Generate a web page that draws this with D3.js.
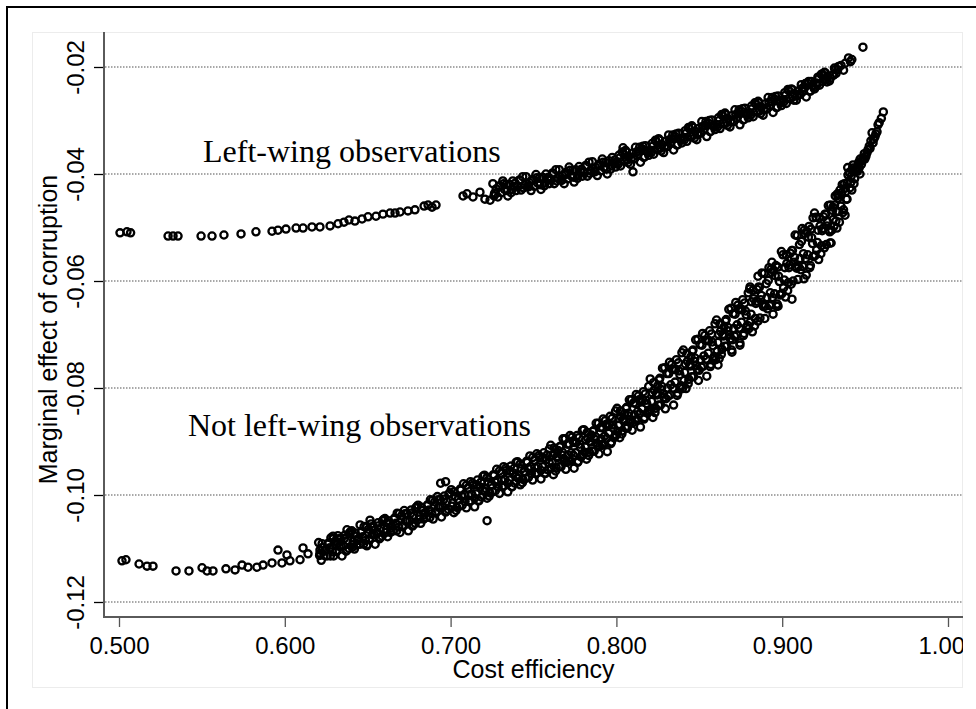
<!DOCTYPE html>
<html><head><meta charset="utf-8">
<script src="https://cdn.jsdelivr.net/npm/d3@7"></script>
<style>html,body{margin:0;padding:0;background:#fff}</style>
</head><body>
<svg id="c" width="976" height="709"></svg>
<script>
const xTicks = [0.5, 0.6, 0.7, 0.8, 0.9, 1.0];
const yTicks = [-0.12, -0.10, -0.08, -0.06, -0.04, -0.02];
const xTitle = "Cost efficiency";
const yTitle = "Marginal effect of corruption";
const labels = ["Left-wing observations", "Not left-wing observations"];
const labelX = [0.5507, 0.5416];
const labelY = [-0.0378, -0.0890];

const leftWing = [
[0.5006,-0.0510],[0.5048,-0.0508],[0.507,-0.0510],[0.5296,-0.0516],[0.5326,-0.0516],[0.5356,-0.0516],
[0.5495,-0.0516],[0.5561,-0.0516],[0.5633,-0.0514],[0.5736,-0.0512],[0.5826,-0.0508],[0.5923,-0.0507],
[0.5959,-0.0505],[0.6007,-0.0503],[0.6068,-0.0501],[0.611,-0.0501],[0.6164,-0.0499],[0.6212,-0.0499],
[0.6273,-0.0497],[0.6321,-0.0493],[0.6357,-0.0490],[0.6387,-0.0486],[0.6423,-0.0488],[0.6466,-0.0484],
[0.6502,-0.0480],[0.655,-0.0479],[0.6592,-0.0475],[0.6635,-0.0473],[0.6665,-0.0473],[0.6695,-0.0471],
[0.6743,-0.0469],[0.6785,-0.0467],[0.684,-0.0460],[0.6864,-0.0458],[0.6888,-0.0462],[0.6912,-0.0458],
[0.7075,-0.0441],[0.7099,-0.0437],[0.7135,-0.0443],[0.7177,-0.0434],[0.7207,-0.0447],[0.7238,-0.0449],[0.7262,-0.0441],
[0.7255,-0.0418],[0.7265,-0.0436],[0.7275,-0.0428],[0.7285,-0.0443],[0.7295,-0.0422],
[0.7305,-0.0435],[0.7315,-0.0413],[0.7325,-0.0429],[0.7335,-0.0420],[0.7345,-0.0441],
[0.7355,-0.0419],[0.7365,-0.0435],[0.7375,-0.0413],[0.7385,-0.0423],[0.7395,-0.0431],
[0.7405,-0.0424],[0.7415,-0.0411],[0.7425,-0.0430],[0.7435,-0.0405],[0.7445,-0.0421],
[0.7455,-0.0405],[0.7465,-0.0423],[0.7475,-0.0416],[0.7485,-0.0431],[0.7495,-0.0410],
[0.7505,-0.0423],[0.7515,-0.0401],[0.7525,-0.0417],[0.7535,-0.0408],[0.7545,-0.0429],
[0.7555,-0.0406],[0.7565,-0.0422],[0.7575,-0.0400],[0.7585,-0.0410],[0.7595,-0.0418],
[0.7605,-0.0411],[0.7615,-0.0398],[0.7625,-0.0418],[0.7635,-0.0392],[0.7645,-0.0408],
[0.7655,-0.0392],[0.7665,-0.0410],[0.7675,-0.0403],[0.7685,-0.0418],[0.7695,-0.0397],
[0.7705,-0.0409],[0.7715,-0.0387],[0.7725,-0.0403],[0.7735,-0.0394],[0.7745,-0.0415],
[0.7755,-0.0392],[0.7765,-0.0408],[0.7775,-0.0386],[0.7785,-0.0396],[0.7795,-0.0404],
[0.7805,-0.0397],[0.7815,-0.0384],[0.7825,-0.0404],[0.7835,-0.0378],[0.7845,-0.0394],
[0.7855,-0.0377],[0.7865,-0.0395],[0.7875,-0.0388],[0.7885,-0.0403],[0.7895,-0.0382],
[0.7905,-0.0394],[0.7915,-0.0372],[0.7925,-0.0388],[0.7935,-0.0379],[0.7945,-0.0400],
[0.7955,-0.0375],[0.7965,-0.0391],[0.7975,-0.0369],[0.7985,-0.0379],[0.7995,-0.0387],
[0.8005,-0.0378],[0.8015,-0.0365],[0.8025,-0.0385],[0.8035,-0.0359],[0.8045,-0.0376],
[0.8055,-0.0356],[0.8065,-0.0374],[0.8075,-0.0367],[0.8085,-0.0382],[0.8095,-0.0361],
[0.8105,-0.0372],[0.8115,-0.0350],[0.8125,-0.0366],[0.8135,-0.0357],[0.8145,-0.0378],
[0.8155,-0.0353],[0.8165,-0.0369],[0.8175,-0.0347],[0.8185,-0.0357],[0.8195,-0.0365],
[0.8205,-0.0356],[0.8215,-0.0343],[0.8225,-0.0363],[0.8235,-0.0337],[0.8245,-0.0354],
[0.8255,-0.0334],[0.8265,-0.0352],[0.8275,-0.0345],[0.8285,-0.0360],[0.8295,-0.0339],
[0.8305,-0.0349],[0.8315,-0.0327],[0.8325,-0.0343],[0.8335,-0.0334],[0.8345,-0.0355],
[0.8355,-0.0330],[0.8365,-0.0346],[0.8375,-0.0324],[0.8385,-0.0334],[0.8395,-0.0342],
[0.8405,-0.0332],[0.8415,-0.0319],[0.8425,-0.0339],[0.8435,-0.0313],[0.8445,-0.0330],
[0.8455,-0.0310],[0.8465,-0.0328],[0.8475,-0.0320],[0.8485,-0.0336],[0.8495,-0.0315],
[0.8505,-0.0324],[0.8515,-0.0302],[0.8525,-0.0318],[0.8535,-0.0309],[0.8545,-0.0330],
[0.8555,-0.0305],[0.8565,-0.0321],[0.8575,-0.0299],[0.8585,-0.0309],[0.8595,-0.0317],
[0.8605,-0.0308],[0.8615,-0.0295],[0.8625,-0.0315],[0.8635,-0.0289],[0.8645,-0.0306],
[0.8655,-0.0286],[0.8665,-0.0304],[0.8675,-0.0297],[0.8685,-0.0312],[0.8695,-0.0291],
[0.8705,-0.0302],[0.8715,-0.0280],[0.8725,-0.0296],[0.8735,-0.0287],[0.8745,-0.0308],
[0.8755,-0.0283],[0.8765,-0.0299],[0.8775,-0.0277],[0.8785,-0.0287],[0.8795,-0.0295],
[0.8805,-0.0286],[0.8815,-0.0273],[0.8825,-0.0293],[0.8835,-0.0267],[0.8845,-0.0284],
[0.8855,-0.0264],[0.8865,-0.0282],[0.8875,-0.0275],[0.8885,-0.0290],[0.8895,-0.0269],
[0.8905,-0.0279],[0.8915,-0.0257],[0.8925,-0.0273],[0.8935,-0.0264],[0.8945,-0.0285],
[0.8955,-0.0260],[0.8965,-0.0276],[0.8975,-0.0254],[0.8985,-0.0264],[0.8995,-0.0272],
[0.9005,-0.0261],[0.9015,-0.0248],[0.9025,-0.0268],[0.9035,-0.0242],[0.9045,-0.0259],
[0.9055,-0.0241],[0.9065,-0.0256],[0.9075,-0.0250],[0.9085,-0.0262],[0.9095,-0.0245],
[0.9105,-0.0251],[0.9115,-0.0233],[0.9125,-0.0246],[0.9135,-0.0239],[0.9145,-0.0256],
[0.9155,-0.0231],[0.9165,-0.0245],[0.9175,-0.0227],[0.9185,-0.0235],[0.9195,-0.0241],
[0.9205,-0.0230],[0.9215,-0.0219],[0.9225,-0.0234],[0.9235,-0.0214],[0.9245,-0.0227],
[0.9255,-0.0210],[0.9265,-0.0223],[0.9275,-0.0217],[0.9285,-0.0226],
[0.9305,-0.0215],[0.9315,-0.0202],[0.9325,-0.0212],[0.9335,-0.0205],
[0.9355,-0.0197],[0.9370,-0.0206],[0.9380,-0.0193],[0.9400,-0.0183],[0.9412,-0.0190],[0.9420,-0.0186],
[0.9487,-0.0163],[0.804,-0.0351],[0.810,-0.0396],
[0.7270,-0.0437],[0.7290,-0.0424],[0.7320,-0.0418],[0.7340,-0.0431],[0.7370,-0.0429],[0.7390,-0.0417],
[0.7420,-0.0412],[0.7440,-0.0426],[0.7470,-0.0424],[0.7490,-0.0413],[0.7520,-0.0407],[0.7540,-0.0420],
[0.7570,-0.0417],[0.7590,-0.0406],[0.7620,-0.0400],[0.7640,-0.0413],[0.7670,-0.0412],[0.7690,-0.0401],
[0.7720,-0.0393],[0.7740,-0.0406],[0.7770,-0.0403],[0.7790,-0.0391],[0.7820,-0.0386],[0.7840,-0.0399],
[0.7870,-0.0396],[0.7890,-0.0385],[0.7920,-0.0378],[0.7940,-0.0391],[0.7970,-0.0385],[0.7990,-0.0374],
[0.8010,-0.0382],[0.8020,-0.0370],[0.8040,-0.0361],[0.8060,-0.0359],[0.8070,-0.0379],[0.8090,-0.0371],
[0.8110,-0.0371],[0.8120,-0.0359],[0.8140,-0.0350],[0.8160,-0.0348],[0.8170,-0.0368],[0.8190,-0.0360],
[0.8210,-0.0360],[0.8220,-0.0348],[0.8240,-0.0339],[0.8260,-0.0337],[0.8270,-0.0357],[0.8290,-0.0349],
[0.8310,-0.0348],[0.8320,-0.0336],[0.8340,-0.0327],[0.8360,-0.0325],[0.8370,-0.0345],[0.8390,-0.0337],
[0.8410,-0.0336],[0.8420,-0.0324],[0.8440,-0.0315],[0.8460,-0.0313],[0.8470,-0.0333],[0.8490,-0.0325],
[0.8510,-0.0323],[0.8520,-0.0311],[0.8540,-0.0302],[0.8560,-0.0300],[0.8570,-0.0320],[0.8590,-0.0312],
[0.8610,-0.0312],[0.8620,-0.0300],[0.8640,-0.0291],[0.8660,-0.0289],[0.8670,-0.0309],[0.8690,-0.0301],
[0.8710,-0.0301],[0.8720,-0.0289],[0.8740,-0.0280],[0.8760,-0.0278],[0.8770,-0.0298],[0.8790,-0.0290],
[0.8810,-0.0290],[0.8820,-0.0278],[0.8840,-0.0269],[0.8860,-0.0267],[0.8870,-0.0287],[0.8890,-0.0279],
[0.8910,-0.0278],[0.8920,-0.0266],[0.8940,-0.0257],[0.8960,-0.0255],[0.8970,-0.0275],[0.8990,-0.0267],
[0.9010,-0.0265],[0.9020,-0.0253],[0.9040,-0.0244],[0.9060,-0.0242],[0.9070,-0.0262],[0.9090,-0.0254],
[0.9110,-0.0251],[0.9120,-0.0240],[0.9140,-0.0231],[0.9160,-0.0227],[0.9170,-0.0245],[0.9190,-0.0238],
[0.9210,-0.0233],[0.9220,-0.0222],[0.9240,-0.0213],[0.9260,-0.0211],[0.9270,-0.0228],[0.9290,-0.0221],
[0.9310,-0.0215],[0.9320,-0.0205],[0.9340,-0.0199]
];

const notLeftWing = [
[0.5018,-0.1123],[0.5042,-0.1121],[0.5121,-0.1129],[0.5169,-0.1133],[0.5205,-0.1133],[0.5344,-0.1142],
[0.5422,-0.1142],[0.5501,-0.1136],[0.5531,-0.1142],[0.5567,-0.1142],[0.5645,-0.1138],[0.570,-0.1140],
[0.5742,-0.1131],[0.5778,-0.1135],[0.5832,-0.1135],[0.5869,-0.1131],[0.5923,-0.1127],[0.5959,-0.1103],
[0.5983,-0.1127],[0.6013,-0.1112],[0.6031,-0.1123],[0.6092,-0.1121],[0.611,-0.1099],[0.614,-0.1110],
[0.6212,-0.1103],[0.6273,-0.1099],[0.6291,-0.1077],[0.6321,-0.1090],[0.6375,-0.1065],[0.6411,-0.1097],
[0.6454,-0.1056],[0.6496,-0.1093],[0.6514,-0.1047],[0.6556,-0.1069],[0.6616,-0.1052],
[0.6204,-0.1089],[0.6212,-0.1109],[0.6220,-0.1122],[0.6228,-0.1098],[0.6237,-0.1113],[0.6245,-0.1102],
[0.6254,-0.1114],[0.6262,-0.1090],[0.6270,-0.1099],[0.6278,-0.1080],[0.6287,-0.1106],[0.6295,-0.1114],
[0.6304,-0.1086],[0.6312,-0.1106],[0.6320,-0.1076],[0.6328,-0.1096],[0.6337,-0.1082],[0.6345,-0.1114],
[0.6354,-0.1095],[0.6362,-0.1075],[0.6370,-0.1105],[0.6378,-0.1085],[0.6387,-0.1100],[0.6395,-0.1069],
[0.6404,-0.1067],[0.6412,-0.1087],[0.6420,-0.1101],[0.6428,-0.1077],[0.6437,-0.1093],[0.6445,-0.1081],
[0.6454,-0.1092],[0.6462,-0.1068],[0.6470,-0.1078],[0.6478,-0.1059],[0.6487,-0.1085],[0.6495,-0.1095],
[0.6504,-0.1064],[0.6512,-0.1084],[0.6520,-0.1054],[0.6528,-0.1074],[0.6537,-0.1060],[0.6545,-0.1092],
[0.6554,-0.1072],[0.6562,-0.1052],[0.6570,-0.1082],[0.6578,-0.1062],[0.6587,-0.1077],[0.6595,-0.1046],
[0.6604,-0.1044],[0.6612,-0.1064],[0.6620,-0.1078],[0.6628,-0.1054],[0.6637,-0.1070],[0.6645,-0.1058],
[0.6654,-0.1067],[0.6662,-0.1043],[0.6670,-0.1053],[0.6678,-0.1034],[0.6687,-0.1060],[0.6695,-0.1070],
[0.6704,-0.1039],[0.6712,-0.1059],[0.6720,-0.1029],[0.6728,-0.1049],[0.6737,-0.1035],[0.6745,-0.1067],
[0.6754,-0.1048],[0.6762,-0.1028],[0.6770,-0.1058],[0.6778,-0.1038],[0.6787,-0.1053],[0.6795,-0.1022],
[0.6804,-0.1019],[0.6812,-0.1039],[0.6820,-0.1053],[0.6828,-0.1029],[0.6837,-0.1045],[0.6845,-0.1033],
[0.6854,-0.1042],[0.6862,-0.1018],[0.6870,-0.1028],[0.6878,-0.1009],[0.6887,-0.1035],[0.6895,-0.1045],
[0.6904,-0.1013],[0.6912,-0.1033],[0.6920,-0.1003],[0.6928,-0.1023],[0.6937,-0.1009],[0.6945,-0.1041],
[0.6954,-0.1022],[0.6962,-0.1002],[0.6970,-0.1032],[0.6978,-0.1012],[0.6987,-0.1027],[0.6995,-0.0996],
[0.6210,-0.1113],[0.6225,-0.1091],[0.6240,-0.1105],[0.6260,-0.1092],[0.6275,-0.1114],[0.6290,-0.1082],
[0.6310,-0.1104],[0.6325,-0.1082],[0.6340,-0.1096],[0.6360,-0.1081],[0.6375,-0.1103],[0.6390,-0.1071],
[0.6410,-0.1093],[0.6425,-0.1071],[0.6440,-0.1085],[0.6460,-0.1070],[0.6475,-0.1092],[0.6490,-0.1060],
[0.6510,-0.1082],[0.6525,-0.1060],[0.6540,-0.1074],[0.6560,-0.1058],[0.6575,-0.1080],[0.6590,-0.1048],
[0.6610,-0.1070],[0.6625,-0.1048],[0.6640,-0.1062],[0.6660,-0.1045],[0.6675,-0.1067],[0.6690,-0.1035],
[0.6710,-0.1057],[0.6725,-0.1035],[0.6740,-0.1049],[0.6760,-0.1034],[0.6775,-0.1056],[0.6790,-0.1024],
[0.6810,-0.1045],[0.6825,-0.1023],[0.6840,-0.1037],[0.6860,-0.1020],[0.6875,-0.1042],[0.6890,-0.1010],
[0.6910,-0.1031],[0.6925,-0.1009],[0.6940,-0.1023],[0.6960,-0.1008],[0.6975,-0.1030],[0.6990,-0.0998],
[0.694,-0.0978],[0.697,-0.0975],[0.722,-0.1048],
[0.7004,-0.0990],[0.7012,-0.1015],[0.7020,-0.1033],[0.7028,-0.1003],[0.7037,-0.1023],[0.7045,-0.1008],
[0.7054,-0.1021],[0.7062,-0.0991],[0.7070,-0.1003],[0.7078,-0.0979],[0.7087,-0.1012],[0.7095,-0.1024],
[0.7104,-0.0987],[0.7112,-0.1012],[0.7120,-0.0975],[0.7128,-0.0999],[0.7137,-0.0982],[0.7145,-0.1022],
[0.7154,-0.0998],[0.7162,-0.0972],[0.7170,-0.1010],[0.7178,-0.0985],[0.7187,-0.1004],[0.7195,-0.0965],
[0.7204,-0.0963],[0.7212,-0.0988],[0.7220,-0.1006],[0.7228,-0.0976],[0.7237,-0.0996],[0.7245,-0.0981],
[0.7254,-0.0994],[0.7262,-0.0964],[0.7270,-0.0976],[0.7278,-0.0952],[0.7287,-0.0985],[0.7295,-0.0997],
[0.7304,-0.0959],[0.7312,-0.0984],[0.7320,-0.0947],[0.7328,-0.0971],[0.7337,-0.0954],[0.7345,-0.0994],
[0.7354,-0.0972],[0.7362,-0.0946],[0.7370,-0.0984],[0.7378,-0.0959],[0.7387,-0.0978],[0.7395,-0.0939],
[0.7404,-0.0938],[0.7412,-0.0963],[0.7420,-0.0981],[0.7428,-0.0951],[0.7437,-0.0971],[0.7445,-0.0956],
[0.7454,-0.0969],[0.7462,-0.0939],[0.7470,-0.0951],[0.7478,-0.0927],[0.7487,-0.0960],[0.7495,-0.0972],
[0.7504,-0.0935],[0.7512,-0.0960],[0.7520,-0.0923],[0.7528,-0.0947],[0.7537,-0.0930],[0.7545,-0.0970],
[0.7554,-0.0947],[0.7562,-0.0921],[0.7570,-0.0959],[0.7578,-0.0934],[0.7587,-0.0953],[0.7595,-0.0914],
[0.7008,-0.1021],[0.7020,-0.0994],[0.7033,-0.1029],[0.7045,-0.1009],[0.7058,-0.0989],[0.7070,-0.1019],
[0.7083,-0.0999],[0.7095,-0.0982],[0.7108,-0.1001],[0.7120,-0.1011],[0.7133,-0.0978],[0.7145,-0.1006],
[0.7158,-0.0981],[0.7170,-0.1011],[0.7183,-0.0976],[0.7195,-0.0991],[0.7208,-0.0994],[0.7220,-0.0967],
[0.7233,-0.1002],[0.7245,-0.0982],[0.7258,-0.0962],[0.7270,-0.0992],[0.7283,-0.0972],[0.7295,-0.0955],
[0.7308,-0.0973],[0.7320,-0.0983],[0.7333,-0.0950],[0.7345,-0.0978],[0.7358,-0.0955],[0.7370,-0.0985],
[0.7383,-0.0950],[0.7395,-0.0965],[0.7408,-0.0969],[0.7420,-0.0942],[0.7433,-0.0977],[0.7445,-0.0957],
[0.7458,-0.0937],[0.7470,-0.0967],[0.7483,-0.0947],[0.7495,-0.0930],[0.7508,-0.0949],[0.7520,-0.0959],
[0.7533,-0.0926],[0.7545,-0.0954],[0.7558,-0.0930],[0.7570,-0.0960],[0.7583,-0.0925],[0.7595,-0.0940],
[0.7604,-0.0907],[0.7612,-0.0939],[0.7620,-0.0962],[0.7628,-0.0923],[0.7637,-0.0949],[0.7645,-0.0930],[0.7649,-0.0917],
[0.7654,-0.0947],[0.7662,-0.0909],[0.7670,-0.0925],[0.7678,-0.0895],[0.7687,-0.0936],[0.7695,-0.0952],[0.7699,-0.0938],
[0.7704,-0.0905],[0.7712,-0.0937],[0.7720,-0.0889],[0.7728,-0.0921],[0.7737,-0.0899],[0.7745,-0.0950],[0.7749,-0.0902],
[0.7754,-0.0921],[0.7762,-0.0889],[0.7770,-0.0937],[0.7778,-0.0905],[0.7787,-0.0929],[0.7795,-0.0879],[0.7799,-0.0924],
[0.7804,-0.0878],[0.7812,-0.0910],[0.7820,-0.0933],[0.7828,-0.0894],[0.7837,-0.0920],[0.7845,-0.0901],[0.7849,-0.0888],
[0.7854,-0.0918],[0.7862,-0.0880],[0.7870,-0.0896],[0.7878,-0.0866],[0.7887,-0.0907],[0.7895,-0.0923],[0.7899,-0.0909],
[0.7904,-0.0874],[0.7912,-0.0906],[0.7920,-0.0858],[0.7928,-0.0890],[0.7937,-0.0868],[0.7945,-0.0919],[0.7949,-0.0871],
[0.7954,-0.0885],[0.7962,-0.0853],[0.7970,-0.0901],[0.7978,-0.0869],[0.7987,-0.0893],[0.7995,-0.0843],[0.7999,-0.0888],
[0.8004,-0.0838],[0.8012,-0.0870],[0.8020,-0.0893],[0.8028,-0.0854],[0.8037,-0.0880],[0.8045,-0.0861],[0.8049,-0.0848],
[0.8054,-0.0874],[0.8062,-0.0836],[0.8070,-0.0852],[0.8078,-0.0822],[0.8087,-0.0863],[0.8095,-0.0879],[0.8099,-0.0865],
[0.8104,-0.0828],[0.8112,-0.0860],[0.8120,-0.0812],[0.8128,-0.0844],[0.8137,-0.0822],[0.8145,-0.0873],[0.8149,-0.0825],
[0.8154,-0.0839],[0.8162,-0.0807],[0.8170,-0.0855],[0.8178,-0.0823],[0.8187,-0.0847],[0.8195,-0.0797],[0.8199,-0.0842],
[0.7608,-0.0949],[0.7616,-0.0926],[0.7624,-0.0912],[0.7633,-0.0955],[0.7641,-0.0928],
[0.7658,-0.0910],[0.7666,-0.0947],[0.7674,-0.0920],[0.7683,-0.0932],[0.7691,-0.0895],
[0.7708,-0.0925],[0.7716,-0.0905],[0.7724,-0.0936],[0.7733,-0.0892],[0.7741,-0.0926],
[0.7758,-0.0902],[0.7766,-0.0939],[0.7774,-0.0893],[0.7783,-0.0911],[0.7791,-0.0927],
[0.7808,-0.0920],[0.7816,-0.0897],[0.7824,-0.0883],[0.7833,-0.0926],[0.7841,-0.0899],
[0.7858,-0.0881],[0.7866,-0.0918],[0.7874,-0.0891],[0.7883,-0.0903],[0.7891,-0.0866],
[0.7908,-0.0895],[0.7916,-0.0874],[0.7924,-0.0905],[0.7933,-0.0861],[0.7941,-0.0894],
[0.7958,-0.0868],[0.7966,-0.0904],[0.7974,-0.0857],[0.7983,-0.0875],[0.7991,-0.0890],
[0.8008,-0.0881],[0.8016,-0.0857],[0.8024,-0.0843],[0.8033,-0.0886],[0.8041,-0.0858],
[0.8058,-0.0838],[0.8066,-0.0875],[0.8074,-0.0847],[0.8083,-0.0859],[0.8091,-0.0822],
[0.8108,-0.0850],[0.8116,-0.0829],[0.8124,-0.0859],[0.8133,-0.0815],[0.8141,-0.0848],
[0.8158,-0.0822],[0.8166,-0.0858],[0.8174,-0.0811],[0.8183,-0.0829],[0.8191,-0.0844],
[0.8204,-0.0783],[0.8212,-0.0825],[0.8220,-0.0855],[0.8228,-0.0804],[0.8237,-0.0838],[0.8245,-0.0813],[0.8249,-0.0796],
[0.8254,-0.0832],[0.8262,-0.0782],[0.8270,-0.0803],[0.8278,-0.0763],[0.8287,-0.0818],[0.8295,-0.0839],[0.8299,-0.0820],
[0.8304,-0.0773],[0.8312,-0.0815],[0.8320,-0.0752],[0.8328,-0.0794],[0.8337,-0.0765],[0.8345,-0.0832],[0.8349,-0.0765],
[0.8354,-0.0789],[0.8362,-0.0747],[0.8370,-0.0810],[0.8378,-0.0768],[0.8387,-0.0799],[0.8395,-0.0734],[0.8399,-0.0801],
[0.8404,-0.0729],[0.8412,-0.0771],[0.8420,-0.0801],[0.8428,-0.0750],[0.8437,-0.0784],[0.8445,-0.0759],[0.8449,-0.0742],
[0.8454,-0.0779],[0.8462,-0.0729],[0.8470,-0.0750],[0.8478,-0.0710],[0.8487,-0.0765],[0.8495,-0.0786],[0.8499,-0.0767],
[0.8504,-0.0719],[0.8512,-0.0761],[0.8520,-0.0698],[0.8528,-0.0740],[0.8537,-0.0711],[0.8545,-0.0778],[0.8549,-0.0711],
[0.8554,-0.0735],[0.8562,-0.0693],[0.8570,-0.0756],[0.8578,-0.0714],[0.8587,-0.0745],[0.8595,-0.0680],[0.8599,-0.0747],
[0.8604,-0.0673],[0.8612,-0.0715],[0.8620,-0.0745],[0.8628,-0.0694],[0.8637,-0.0728],[0.8645,-0.0703],[0.8649,-0.0686],
[0.8654,-0.0722],[0.8662,-0.0672],[0.8670,-0.0693],[0.8678,-0.0653],[0.8687,-0.0708],[0.8695,-0.0729],[0.8699,-0.0710],
[0.8704,-0.0661],[0.8712,-0.0703],[0.8720,-0.0640],[0.8728,-0.0682],[0.8737,-0.0653],[0.8745,-0.0720],[0.8749,-0.0653],
[0.8754,-0.0677],[0.8762,-0.0635],[0.8770,-0.0698],[0.8778,-0.0656],[0.8787,-0.0687],[0.8795,-0.0622],[0.8799,-0.0689],
[0.8208,-0.0840],[0.8216,-0.0809],[0.8224,-0.0790],[0.8233,-0.0846],[0.8241,-0.0810],
[0.8258,-0.0785],[0.8266,-0.0832],[0.8274,-0.0797],[0.8283,-0.0811],[0.8291,-0.0762],
[0.8308,-0.0800],[0.8316,-0.0773],[0.8324,-0.0813],[0.8333,-0.0756],[0.8341,-0.0800],
[0.8358,-0.0766],[0.8366,-0.0814],[0.8374,-0.0753],[0.8383,-0.0775],[0.8391,-0.0796],
[0.8408,-0.0786],[0.8416,-0.0755],[0.8424,-0.0736],[0.8433,-0.0792],[0.8441,-0.0756],
[0.8458,-0.0731],[0.8466,-0.0779],[0.8474,-0.0744],[0.8483,-0.0758],[0.8491,-0.0709],
[0.8508,-0.0747],[0.8516,-0.0720],[0.8524,-0.0759],[0.8533,-0.0702],[0.8541,-0.0746],
[0.8558,-0.0712],[0.8566,-0.0760],[0.8574,-0.0699],[0.8583,-0.0721],[0.8591,-0.0741],
[0.8608,-0.0731],[0.8616,-0.0700],[0.8624,-0.0680],[0.8633,-0.0737],[0.8641,-0.0700],
[0.8658,-0.0675],[0.8666,-0.0722],[0.8674,-0.0687],[0.8683,-0.0701],[0.8691,-0.0651],
[0.8708,-0.0689],[0.8716,-0.0662],[0.8724,-0.0701],[0.8733,-0.0645],[0.8741,-0.0688],
[0.8758,-0.0654],[0.8766,-0.0702],[0.8774,-0.0641],[0.8783,-0.0663],[0.8791,-0.0683],
[0.8804,-0.0615],[0.8812,-0.0662],[0.8820,-0.0695],[0.8828,-0.0633],[0.8837,-0.0670],[0.8845,-0.0638],[0.8849,-0.0616],
[0.8854,-0.0675],[0.8862,-0.0612],[0.8870,-0.0635],[0.8878,-0.0585],[0.8887,-0.0648],[0.8895,-0.0670],[0.8899,-0.0647],
[0.8904,-0.0605],[0.8912,-0.0652],[0.8920,-0.0575],[0.8928,-0.0622],[0.8937,-0.0584],[0.8945,-0.0662],[0.8949,-0.0580],
[0.8954,-0.0624],[0.8962,-0.0571],[0.8970,-0.0643],[0.8978,-0.0591],[0.8987,-0.0626],[0.8995,-0.0545],[0.8999,-0.0623],
[0.9004,-0.0551],[0.9012,-0.0598],[0.9020,-0.0630],[0.9028,-0.0567],[0.9037,-0.0603],[0.9045,-0.0570],[0.9049,-0.0548],
[0.9054,-0.0606],[0.9062,-0.0543],[0.9070,-0.0565],[0.9078,-0.0514],[0.9087,-0.0576],[0.9095,-0.0597],[0.9099,-0.0573],
[0.9104,-0.0532],[0.9112,-0.0579],[0.9120,-0.0502],[0.9128,-0.0549],[0.9137,-0.0511],[0.9145,-0.0589],[0.9149,-0.0507],
[0.9154,-0.0551],[0.9162,-0.0498],[0.9170,-0.0571],[0.9178,-0.0519],[0.9187,-0.0554],[0.9195,-0.0473],[0.9199,-0.0552],
[0.9204,-0.0481],[0.9212,-0.0528],[0.9220,-0.0560],[0.9228,-0.0497],[0.9237,-0.0534],[0.9245,-0.0502],[0.9249,-0.0480],
[0.9254,-0.0538],[0.9262,-0.0475],[0.9270,-0.0497],[0.9278,-0.0459],[0.9287,-0.0508],[0.9295,-0.0529],[0.9299,-0.0505],
[0.8808,-0.0677],[0.8816,-0.0639],[0.8824,-0.0617],[0.8833,-0.0684],[0.8841,-0.0642],
[0.8858,-0.0611],[0.8866,-0.0669],[0.8874,-0.0627],[0.8883,-0.0644],[0.8891,-0.0586],
[0.8908,-0.0631],[0.8916,-0.0599],[0.8924,-0.0646],[0.8933,-0.0578],[0.8941,-0.0631],
[0.8958,-0.0590],[0.8966,-0.0647],[0.8974,-0.0574],[0.8983,-0.0601],[0.8991,-0.0625],
[0.9008,-0.0613],[0.9016,-0.0575],[0.9024,-0.0551],[0.9033,-0.0618],[0.9041,-0.0575],
[0.9058,-0.0543],[0.9066,-0.0600],[0.9074,-0.0556],[0.9083,-0.0573],[0.9091,-0.0515],
[0.9108,-0.0558],[0.9116,-0.0526],[0.9124,-0.0573],[0.9133,-0.0505],[0.9141,-0.0558],
[0.9158,-0.0518],[0.9166,-0.0575],[0.9174,-0.0503],[0.9183,-0.0530],[0.9191,-0.0554],
[0.9208,-0.0542],[0.9216,-0.0505],[0.9224,-0.0482],[0.9233,-0.0549],[0.9241,-0.0506],
[0.9258,-0.0475],[0.9266,-0.0532],[0.9274,-0.0489],[0.9283,-0.0505],[0.9291,-0.0458],
[0.9304,-0.0468],[0.9312,-0.0498],[0.9320,-0.0441],[0.9328,-0.0470],[0.9337,-0.0440],[0.9345,-0.0490],
[0.9354,-0.0460],[0.9362,-0.0420],[0.9370,-0.0467],[0.9378,-0.0427],[0.9387,-0.0447],[0.9395,-0.0388],
[0.9404,-0.0397],[0.9412,-0.0417],[0.9420,-0.0430],[0.9428,-0.0395],[0.9437,-0.0409],[0.9445,-0.0389],
[0.9308,-0.0485],[0.9316,-0.0458],[0.9324,-0.0488],[0.9333,-0.0437],[0.9341,-0.0470],
[0.9358,-0.0435],[0.9366,-0.0472],[0.9374,-0.0418],[0.9383,-0.0433],[0.9391,-0.0447],
[0.9408,-0.0426],[0.9416,-0.0404],[0.9424,-0.0389],[0.9433,-0.0418],[0.9441,-0.0393],
[0.9454,-0.0395],[0.9457,-0.0383],[0.9462,-0.0378],[0.9469,-0.0400],[0.9470,-0.0372],[0.9478,-0.0382],
[0.9487,-0.0370],[0.9495,-0.0362],[0.9505,-0.0367],[0.9517,-0.0355],[0.9525,-0.0348],[0.9535,-0.0338],
[0.9542,-0.0323],[0.9548,-0.0342],[0.9560,-0.0330],[0.9572,-0.0321],[0.9578,-0.0308],[0.961,-0.0284],
[0.9450,-0.0392],[0.9465,-0.0388],[0.9482,-0.0375],[0.9498,-0.0372],[0.9512,-0.0360],[0.9530,-0.0352],
[0.9552,-0.0335],[0.9565,-0.0325],[0.9585,-0.0304],[0.9598,-0.0296],
[0.9427,-0.0383],[0.9397,-0.0402],[0.9391,-0.0417],[0.9349,-0.0430],[0.9337,-0.0445],[0.9306,-0.0462],
[0.9379,-0.0477],[0.9186,-0.0482],
[0.8854,-0.0591],[0.8806,-0.0611],[0.8938,-0.0565],[0.8975,-0.0647],[0.9059,-0.0634],[0.9131,-0.0596],
[0.9288,-0.0529],[0.933,-0.0501],[0.8613,-0.0757],[0.8697,-0.0733],[0.8745,-0.0716]
];

const svg = d3.select("#c");
const x = d3.scaleLinear().domain([0.5, 1.0]).range([119, 948]);
const y = d3.scaleLinear().domain([-0.12, -0.02]).range([602, 67]);
const plotL = 104, plotR = 963, plotT = 32, plotB = 617;
const sans = "'Liberation Sans', Arial, Helvetica, sans-serif";
const hy = s => s.replace("\u2212", "-");

svg.append("defs").append("clipPath").attr("id", "clipR")
  .append("rect").attr("x", 0).attr("y", 0).attr("width", plotR).attr("height", 709);

svg.append("rect").attr("x", 7).attr("y", 7).attr("width", 1200).attr("height", 1200)
  .attr("fill", "none").attr("stroke", "#000").attr("stroke-width", 2);
svg.append("rect").attr("x", 32.5).attr("y", 32.5).attr("width", 930).attr("height", 655)
  .attr("fill", "none").attr("stroke", "#ececec").attr("stroke-width", 1);

svg.append("g").selectAll("line").data(yTicks).join("line")
  .attr("x1", plotL + 1).attr("x2", plotR)
  .attr("y1", d => y(d)).attr("y2", d => y(d))
  .attr("stroke", "#8c8c8c").attr("stroke-width", 1.6).attr("stroke-dasharray", "1.5,1.5");

const pts = svg.append("g").attr("fill", "none").attr("stroke", "#000").attr("stroke-width", 2.3);
pts.selectAll("circle.l").data(leftWing).join("circle").attr("class", "l")
  .attr("cx", d => x(d[0])).attr("cy", d => y(d[1])).attr("r", 3.6);
pts.selectAll("circle.n").data(notLeftWing).join("circle").attr("class", "n")
  .attr("cx", d => x(d[0])).attr("cy", d => y(d[1])).attr("r", 3.6);

const yAxis = d3.axisLeft(y).tickValues(yTicks).tickSize(10).tickFormat(d => hy(d3.format(".2f")(d)));
const gy = svg.append("g").attr("transform", `translate(${plotL},0)`).call(yAxis);
gy.select(".domain").remove();
gy.selectAll(".tick line").attr("stroke", "#000").attr("stroke-width", 1.3);
gy.selectAll(".tick text").attr("x", 0).attr("dy", 0)
  .attr("transform", "translate(-20,0) rotate(-90)")
  .attr("text-anchor", "middle").attr("fill", "#000")
  .style("font-family", sans).style("font-size", "24px");

const xAxis = d3.axisBottom(x).tickValues(xTicks).tickSize(10).tickFormat(d3.format(".3f"));
const gx = svg.append("g").attr("clip-path", "url(#clipR)")
  .append("g").attr("transform", `translate(0,${plotB})`).call(xAxis);
gx.select(".domain").remove();
gx.selectAll(".tick line").attr("stroke", "#555").attr("stroke-width", 1.3);
gx.selectAll(".tick text").attr("y", 37).attr("dy", 0).attr("fill", "#000")
  .style("font-family", sans).style("font-size", "24px");

svg.append("line").attr("x1", plotL).attr("x2", plotL).attr("y1", plotT).attr("y2", plotB + 1)
  .attr("stroke", "#5a5a5a").attr("stroke-width", 2);
svg.append("line").attr("x1", plotL).attr("x2", plotR).attr("y1", plotB).attr("y2", plotB)
  .attr("stroke", "#5a5a5a").attr("stroke-width", 2);

svg.append("text").attr("x", (plotL + plotR) / 2).attr("y", 678).attr("text-anchor", "middle")
  .style("font-family", sans).style("font-size", "25px").text(xTitle);
svg.append("text").attr("transform", `translate(57,${(plotT + plotB) / 2 + 5}) rotate(-90)`)
  .attr("text-anchor", "middle").style("font-family", sans).style("font-size", "25px").text(yTitle);

svg.append("g").selectAll("text").data(labels).join("text")
  .attr("x", (d, i) => x(labelX[i])).attr("y", (d, i) => y(labelY[i]))
  .attr("text-anchor", "start")
  .style("font-family", "'Liberation Serif', 'Times New Roman', serif").style("font-size", "32px")
  .text(d => d);
</script>
</body></html>
